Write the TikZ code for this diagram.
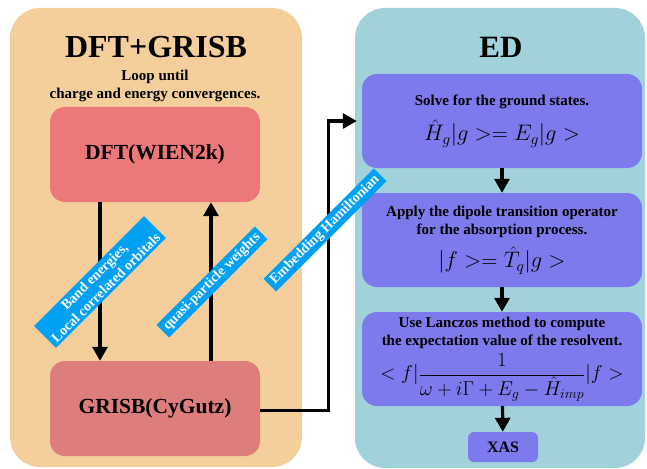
\RequirePackage{fix-cm}
\documentclass[tikz,border=0pt]{standalone}
\usepackage{fontspec}
\setmainfont{Liberation Serif}
\usetikzlibrary{arrows.meta,positioning}
\definecolor{dftpanel}{RGB}{245,207,155}
\definecolor{edpanel}{RGB}{161,210,220}
\definecolor{dftred}{RGB}{236,120,122}
\definecolor{grisbred}{RGB}{221,126,125}
\definecolor{edviolet}{RGB}{124,122,236}
\definecolor{tagblue}{RGB}{0,160,245}
\newcommand{\bodyfont}{\bfseries\fontsize{15}{18}\selectfont}
\newcommand{\mathfont}{\fontsize{22.5}{26}\selectfont}
\tikzset{
    redbox/.style={rounded corners=15pt, minimum width=210pt, minimum height=95pt, font=\bfseries\fontsize{21.5}{24}\selectfont},
    edbox/.style={fill=edviolet, rounded corners=15pt, minimum width=280pt, minimum height=94pt, align=center, inner sep=0pt, font=\bodyfont},
    tag/.style={fill=tagblue, text=white, rotate=45, align=center, inner xsep=4pt, inner ysep=2.5pt, font=\bfseries\fontsize{14}{16}\selectfont},
    flow/.style={line width=3.2pt, -{Triangle[width=15pt,length=14pt]}}
}
\begin{document}
\begin{tikzpicture}[x=1pt,y=-1pt]
            \useasboundingbox (0,0) rectangle (647,468);
            \fill[dftpanel, rounded corners=30pt] (10,8) rectangle (302,467);
            \fill[edpanel, rounded corners=30pt] (355,8) rectangle (645,468);

            \node[font=\bfseries\fontsize{32}{36}\selectfont] (dfttitle) at (156,47.5) {DFT+GRISB};
            \node[font=\bodyfont, align=center] (loop) at (155,86) {Loop until\\charge and energy convergences.};
            \node[font=\bfseries\fontsize{31}{36}\selectfont] (edtitle) at (501,47.5) {ED};

            \node[redbox, fill=dftred] (dft) at (155,154.5) {DFT(WIEN2k)};
            \node[redbox, fill=grisbred] (grisb) at (155,408.5) {GRISB(CyGutz)};

            \node[edbox] (solve) at (502,121) {Solve for the ground states.\\[10pt]
                \mathfont$\hat{H}_g|g>=E_g|g>$};
            \node[edbox] (dipole) at (502,240) {Apply the dipole transition operator\\for the absorption process.\\[8pt]
                \mathfont$|f>=\hat{T}_q|g>$};
            \node[edbox] (lanczos) at (502,359) {Use Lanczos method to compute\\the expectation value of the resolvent.\\[4pt]
                \fontsize{20}{24}\selectfont$\displaystyle<f|\frac{1}{\omega+i\Gamma+E_g-\hat{H}_{imp}}|f>$};
            \node[edbox, minimum width=70pt, minimum height=30pt, rounded corners=6pt, font=\bfseries\fontsize{16}{18}\selectfont] (xas) at (503,447) {XAS};

            % Loop between DFT and GRISB
            \draw[flow] ([xshift=-55pt]dft.south) -- ([xshift=-55pt]grisb.north);
            \draw[flow] ([xshift=56pt]grisb.north) -- ([xshift=56pt]dft.south);
            \draw[flow, shorten >=5pt] ([yshift=-2pt]grisb.east) -- ++(68,0) |- (solve.west);

            \draw[flow] (solve) -- (dipole);
            \draw[flow] (dipole) -- (lanczos);
            \draw[flow] (lanczos) -- (xas);

            % Labels on the arrows
            \node[tag] (bandtag) at (100,282) {Band energies,\\Local correlated orbitals};
            \node[tag] (qptag) at (212,282) {quasi-particle weights};
            \node[tag] (embedtag) at (325,230) {Embedding Hamiltonian};
        \end{tikzpicture}
\end{document}
